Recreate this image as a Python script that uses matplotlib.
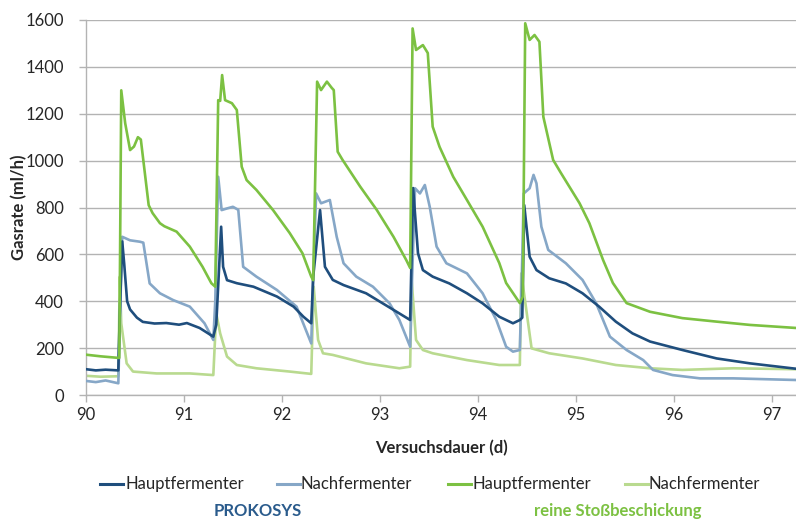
import matplotlib
matplotlib.use("Agg")
import matplotlib.pyplot as plt
from matplotlib.lines import Line2D

# ---- data ----
hp_x = [90.0, 90.1, 90.2, 90.33, 90.345, 90.37, 90.39, 90.42, 90.45, 90.52, 90.58, 90.7, 90.82, 90.95,
        91.03, 91.16, 91.30, 91.33, 91.38, 91.40, 91.44, 91.54, 91.71, 91.95, 92.12, 92.22, 92.30,
        92.32, 92.39, 92.44, 92.52, 92.63, 92.86, 93.03, 93.20, 93.31, 93.34, 93.39, 93.44, 93.54,
        93.71, 93.89, 94.05, 94.22, 94.36, 94.43, 94.455, 94.475, 94.53, 94.60, 94.73, 94.90, 95.07,
        95.24, 95.41, 95.58, 95.76, 96.09, 96.44, 96.78, 97.25]
hp_y = [110, 105, 108, 105, 350, 655, 560, 400, 365, 330, 312, 305, 307, 300,
        307, 286, 249, 300, 718, 547, 490, 477, 462, 420, 377, 334, 306,
        505, 789, 547, 491, 469, 434, 391, 348, 320, 883, 605, 533, 505,
        476, 434, 391, 334, 306, 320, 330, 810, 590, 533, 498, 476, 434,
        377, 313, 263, 228, 192, 156, 135, 112]

np_x = [90.0, 90.1, 90.2, 90.33, 90.345, 90.37, 90.45, 90.55, 90.585, 90.65, 90.755, 90.89, 91.06,
        91.21, 91.30, 91.32, 91.35, 91.385, 91.44, 91.50, 91.555, 91.605, 91.74, 91.95, 92.15, 92.30,
        92.32, 92.35, 92.40, 92.49, 92.56, 92.63, 92.76, 92.93, 93.10, 93.20, 93.31, 93.33, 93.36,
        93.41, 93.46, 93.51, 93.58, 93.68, 93.89, 94.05, 94.19, 94.29, 94.36, 94.43, 94.45, 94.47,
        94.53, 94.57, 94.60, 94.65, 94.72, 94.90, 95.07, 95.21, 95.35, 95.52, 95.69, 95.79, 95.99,
        96.27, 96.61, 97.25]
np_y = [60, 55, 62, 50, 300, 675, 660, 654, 650, 476, 434, 405, 377,
        306, 235, 400, 931, 789, 796, 803, 790, 547, 505, 448, 377, 220,
        500, 860, 818, 832, 675, 562, 505, 462, 391, 320, 206, 500, 882,
        860, 896, 803, 633, 562, 519, 434, 320, 206, 185, 192, 500, 860,
        882, 939, 903, 718, 619, 562, 491, 391, 249, 192, 149, 107, 85,
        71, 71, 64]

hr_x = [90.0, 90.15, 90.34, 90.36, 90.40, 90.45, 90.49, 90.53, 90.56, 90.64, 90.68, 90.755, 90.80,
        90.925, 91.06, 91.19, 91.28, 91.32, 91.35, 91.37, 91.39, 91.42, 91.49, 91.54, 91.59, 91.64,
        91.74, 91.91, 92.08, 92.21, 92.30, 92.32, 92.36, 92.40, 92.46, 92.51, 92.53, 92.57, 92.62,
        92.80, 92.97, 93.14, 93.27, 93.31, 93.335, 93.37, 93.44, 93.49, 93.54, 93.61, 93.75, 93.89,
        94.05, 94.22, 94.29, 94.43, 94.46, 94.485, 94.53, 94.58, 94.63, 94.67, 94.77, 94.85, 95.04,
        95.14, 95.28, 95.38, 95.52, 95.76, 96.09, 96.44, 96.78, 97.25]
hr_y = [172, 165, 158, 1300, 1160, 1045, 1060, 1100, 1090, 810, 776, 733, 720,
        697, 633, 547, 477, 462, 1258, 1255, 1365, 1258, 1245, 1216, 974, 917,
        875, 789, 691, 605, 505, 490, 1337, 1301, 1337, 1310, 1301, 1038, 1003,
        889, 789, 675, 576, 542, 1564, 1472, 1493, 1459, 1145, 1059, 931, 832,
        718, 563, 478, 392, 420, 1586, 1515, 1536, 1507, 1187, 1003, 947, 818,
        733, 576, 478, 392, 355, 328, 313, 299, 286]

nr_x = [90.0, 90.15, 90.33, 90.345, 90.36, 90.415, 90.48, 90.72, 91.06, 91.30, 91.33, 91.37, 91.44,
        91.54, 91.74, 92.08, 92.30, 92.325, 92.37, 92.42, 92.52, 92.86, 93.20, 93.31, 93.325, 93.37,
        93.44, 93.54, 93.89, 94.22, 94.43, 94.445, 94.55, 94.73, 95.07, 95.41, 95.76, 96.09, 96.61,
        97.25]
nr_y = [82, 78, 80, 505, 306, 135, 100, 92, 92, 85, 348, 263, 164,
        128, 114, 100, 90, 462, 235, 178, 171, 135, 114, 121, 491, 235,
        192, 178, 149, 128, 128, 519, 199, 178, 156, 128, 114, 107, 114,
        110]

series_labels = ["Hauptfermenter", "Nachfermenter", "Hauptfermenter", "Nachfermenter"]
group_labels = ["PROKOSYS", "reine Stoßbeschickung"]
x_ticks = [90, 91, 92, 93, 94, 95, 96, 97]
y_ticks = [0, 200, 400, 600, 800, 1000, 1200, 1400, 1600]

# ---- style ----
plt.rcParams['font.family'] = ['Lato', 'DejaVu Sans']
c_hp = "#1f4e7d"
c_np = "#86a7c7"
c_hr = "#7cc142"
c_nr = "#b9da8f"
grid_c = "#b3b3b3"
txt_c = "#262626"

W, H = 796, 519
fig = plt.figure(figsize=(W / 100, H / 100), dpi=100)
ax = fig.add_axes([86 / W, 1 - 395 / H, 1 - 86 / W, (395 - 20) / H])

lw = 1.9
ax.plot(hp_x, hp_y, color=c_hp, lw=lw, zorder=4)
ax.plot(np_x, np_y, color=c_np, lw=lw, zorder=3)
ax.plot(hr_x, hr_y, color=c_hr, lw=lw, zorder=5)
ax.plot(nr_x, nr_y, color=c_nr, lw=lw, zorder=2)

ax.set_xlim(90, 97.25)
ax.set_ylim(0, 1600)
ax.set_xticks(x_ticks)
ax.set_yticks(y_ticks)
ax.yaxis.grid(True, color=grid_c, lw=1.0)
ax.set_axisbelow(True)
for s in ["top", "right"]:
    ax.spines[s].set_visible(False)
for s in ["left", "bottom"]:
    ax.spines[s].set_color(grid_c)
    ax.spines[s].set_linewidth(1.0)
ax.tick_params(axis="both", colors=grid_c, labelcolor=txt_c, labelsize=12, length=5, width=1.0)
ax.tick_params(axis="y", pad=11)
ax.tick_params(axis="x", pad=4)

ax.set_ylabel("Gasrate (ml/h)", fontsize=12, fontweight="bold", color=txt_c, va="center")
ax.yaxis.set_label_coords(-(86 - 19) / (W - 86), 0.5)
ax.set_xlabel("Versuchsdauer (d)", fontsize=12, fontweight="bold", color=txt_c, labelpad=12)

# legend drawn manually at the reference positions
leg_y = 1 - 484 / H
leg_items = [(100, 123, 125, c_hp), (277, 300, 301, c_np), (448, 471, 473, c_hr), (625, 648, 649, c_nr)]
for (x0, x1, xt, c), lab in zip(leg_items, series_labels):
    fig.add_artist(Line2D([x0 / W, x1 / W], [leg_y, leg_y], color=c, lw=2.2,
                          transform=fig.transFigure))
    fig.text(xt / W, leg_y, lab, ha="left", va="center", fontsize=12, color=txt_c)

fig.text(258 / W, 1 - 511 / H, group_labels[0], ha="center", va="center",
         fontsize=12, fontweight="bold", color="#2a5b8c")
fig.text(618 / W, 1 - 511 / H, group_labels[1], ha="center", va="center",
         fontsize=12, fontweight="bold", color="#7cc142")

fig.savefig("out.png", dpi=100)
